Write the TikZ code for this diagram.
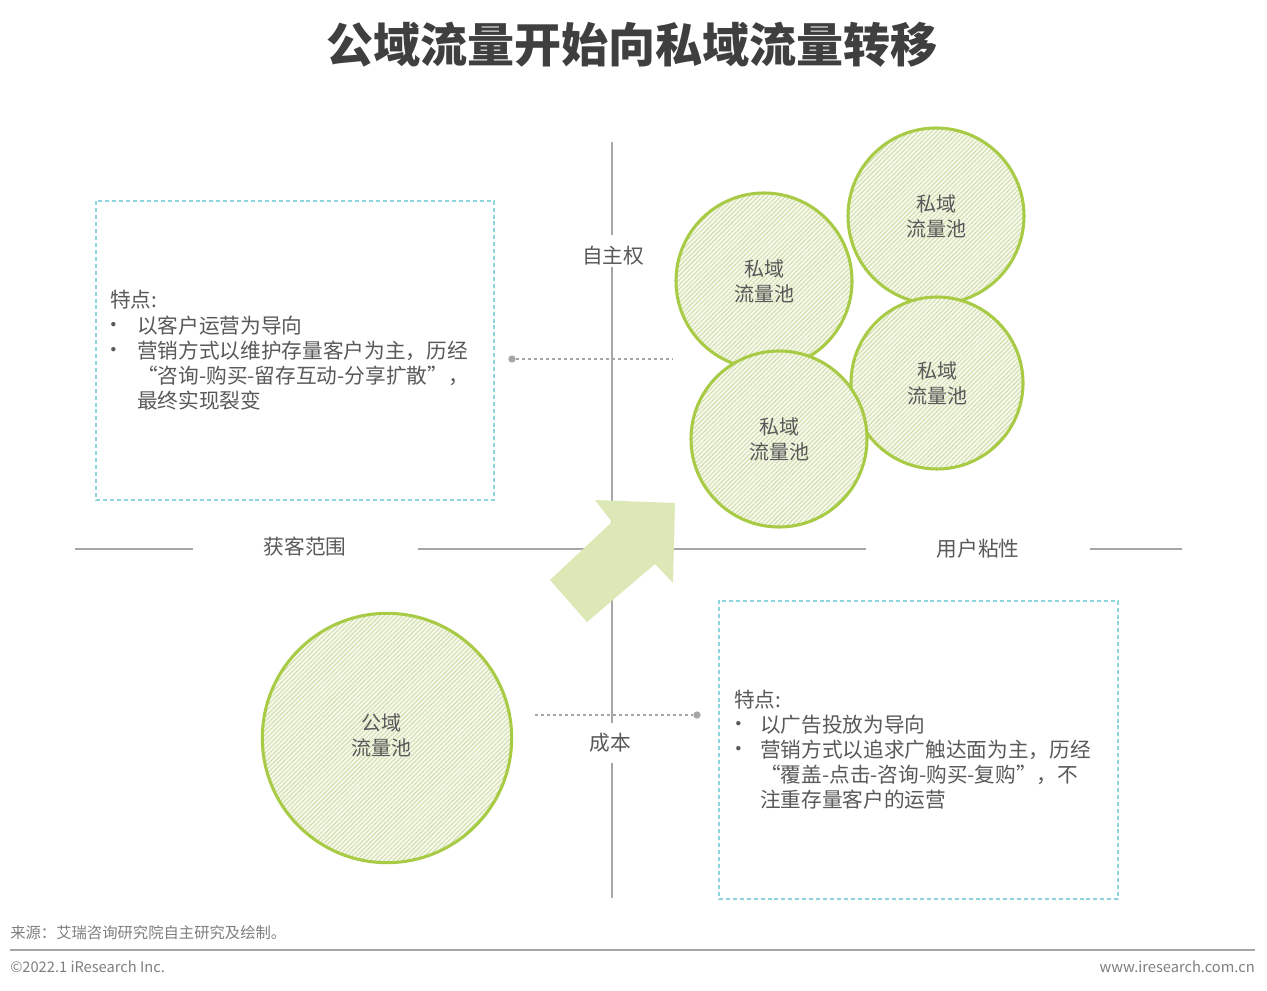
\documentclass[tikz,border=0pt]{standalone}
\usepackage{fontspec}
\setmainfont{Noto Sans CJK SC}
\usetikzlibrary{patterns.meta}
\definecolor{txt}{HTML}{595959}
\definecolor{ttl}{HTML}{3F3F3F}
\definecolor{axis}{HTML}{A6A6A6}
\definecolor{grn}{HTML}{A8CB45}
\definecolor{lightgrn}{HTML}{F5F8EA}
\definecolor{hatch}{HTML}{CBDBA2}
\definecolor{arrowc}{HTML}{DCE8B5}
\definecolor{boxc}{HTML}{8ED4DC}
\definecolor{foot}{HTML}{7F7F7F}
\tikzset{
  pool/.style={circle, draw=grn, line width=2.3pt, preaction={fill=lightgrn},
    pattern={Lines[angle=45,distance=2.4pt,line width=0.6pt]}, pattern color=hatch,
    inner sep=0pt, align=center, text=txt, font=\fontsize{15}{18.75}\selectfont},
  axisline/.style={draw=axis, line width=1.1pt},
  axislabel/.style={text=txt, font=\fontsize{15.5}{18}\selectfont, inner sep=0pt},
  dbox/.style={draw=boxc, line width=0.8pt, dash pattern=on 3pt off 2.2pt, inner sep=0pt},
  bodytext/.style={anchor=west, text=txt, font=\fontsize{15.5}{18}\selectfont, inner sep=0pt},
  bul/.style={text=txt, font=\fontsize{15.5}{18}\selectfont, inner sep=0pt},
  dotline/.style={draw=axis, line width=0.8pt, dash pattern=on 2.5pt off 2pt},
  dotn/.style={circle, fill=axis, inner sep=0pt, minimum size=5.5pt},
}
\begin{document}
\begin{tikzpicture}[x=0.75pt,y=-0.75pt]
\path[use as bounding box, fill=white] (0,0) rectangle (1267,991);

% title
\node[text=ttl, font=\fontsize{35.3}{38}\bfseries\selectfont] (title) at (632,45) {公域流量开始向私域流量转移};

% axes
\coordinate (v1) at (612,142); \coordinate (v2) at (612,235);
\coordinate (v3) at (612,267); \coordinate (v4) at (612,723);
\coordinate (v5) at (612,763); \coordinate (v6) at (612,898);
\coordinate (h1) at (75,549);  \coordinate (h2) at (193,549);
\coordinate (h3) at (418,549); \coordinate (h4) at (866,549);
\coordinate (h5) at (1090,549);\coordinate (h6) at (1182,549);
\draw[axisline] (v1) -- (v2);
\draw[axisline] (v3) -- (v4);
\draw[axisline] (v5) -- (v6);
\draw[axisline] (h1) -- (h2);
\draw[axisline] (h3) -- (h4);
\draw[axisline] (h5) -- (h6);
\node[axislabel] (zzq) at (613,256) {自主权};
\node[axislabel] (hkfw) at (305,547) {获客范围};
\node[axislabel] (yhzx) at (978,549) {用户粘性};
\node[axislabel] (cb) at (610,743) {成本};

% dashed boxes
\node[dbox, minimum width=298.5pt, minimum height=224.25pt] (boxL) at (295,350.5) {};
\node[dbox, minimum width=299.25pt, minimum height=223.5pt] (boxR) at (918.5,750) {};

% left box text
\node[bodytext] (l0) at (110,300) {特点:};
\node[bul] (lb1) at (114,327) {•};
\node[bodytext] (l1) at (137,326) {以客户运营为导向};
\node[bul] (lb2) at (114,352) {•};
\node[bodytext] (l2) at (137,351) {营销方式以维护存量客户为主，历经};
\node[bodytext] (l3) at (137,376) {“咨询-购买-留存互动-分享扩散”，};
\node[bodytext] (l4) at (137,401) {最终实现裂变};

% right box text
\node[bodytext] (r0) at (734,700) {特点:};
\node[bul] (rb1) at (739,726) {•};
\node[bodytext] (r1) at (760,725) {以广告投放为导向};
\node[bul] (rb2) at (739,751) {•};
\node[bodytext] (r2) at (760,750) {营销方式以追求广触达面为主，历经};
\node[bodytext] (r3) at (760,775) {“覆盖-点击-咨询-购买-复购”，不};
\node[bodytext] (r4) at (760,800) {注重存量客户的运营};

% dotted connectors
\node[dotn] (dl) at (512,359) {};
\coordinate (cl) at (673,359);
\draw[dotline] (dl) -- (cl);
\coordinate (cr) at (535,715);
\node[dotn] (dr) at (697,715) {};
\draw[dotline] (cr) -- (dr);

% arrow
\fill[arrowc] (595,500) -- (675,503) -- (673,583) -- (655,564) -- (587,622) -- (550,580) -- (612,522) -- cycle;

% circles
\node[pool, minimum size=132pt] (c2) at (936,216) {私域\\流量池};
\node[pool, minimum size=132pt] (c1) at (764,281) {私域\\流量池};
\node[pool, minimum size=129pt] (c3) at (937,383) {私域\\流量池};
\node[pool, minimum size=132pt] (c4) at (779,439) {私域\\流量池};
\node[pool, minimum size=187pt] (pub) at (387,738) {};
\node[text=txt, align=center, font=\fontsize{15}{18.75}\selectfont, inner sep=0pt] (publbl) at (381,735) {公域\\流量池};

% footer
\node[anchor=west, text=foot, font=\fontsize{11.5}{14}\selectfont, inner sep=0pt] (src) at (10,933) {来源：艾瑞咨询研究院自主研究及绘制。};
\coordinate (f1) at (10,950); \coordinate (f2) at (1255,950);
\draw[draw=axis, line width=1.1pt] (f1) -- (f2);
\node[anchor=west, text=foot, font=\fontsize{11}{14}\selectfont, inner sep=0pt] (copy) at (10,967) {©2022.1 iResearch Inc.};
\node[anchor=east, text=foot, font=\fontsize{11}{14}\selectfont, inner sep=0pt] (www) at (1255,967) {www.iresearch.com.cn};
\end{tikzpicture}
\end{document}
